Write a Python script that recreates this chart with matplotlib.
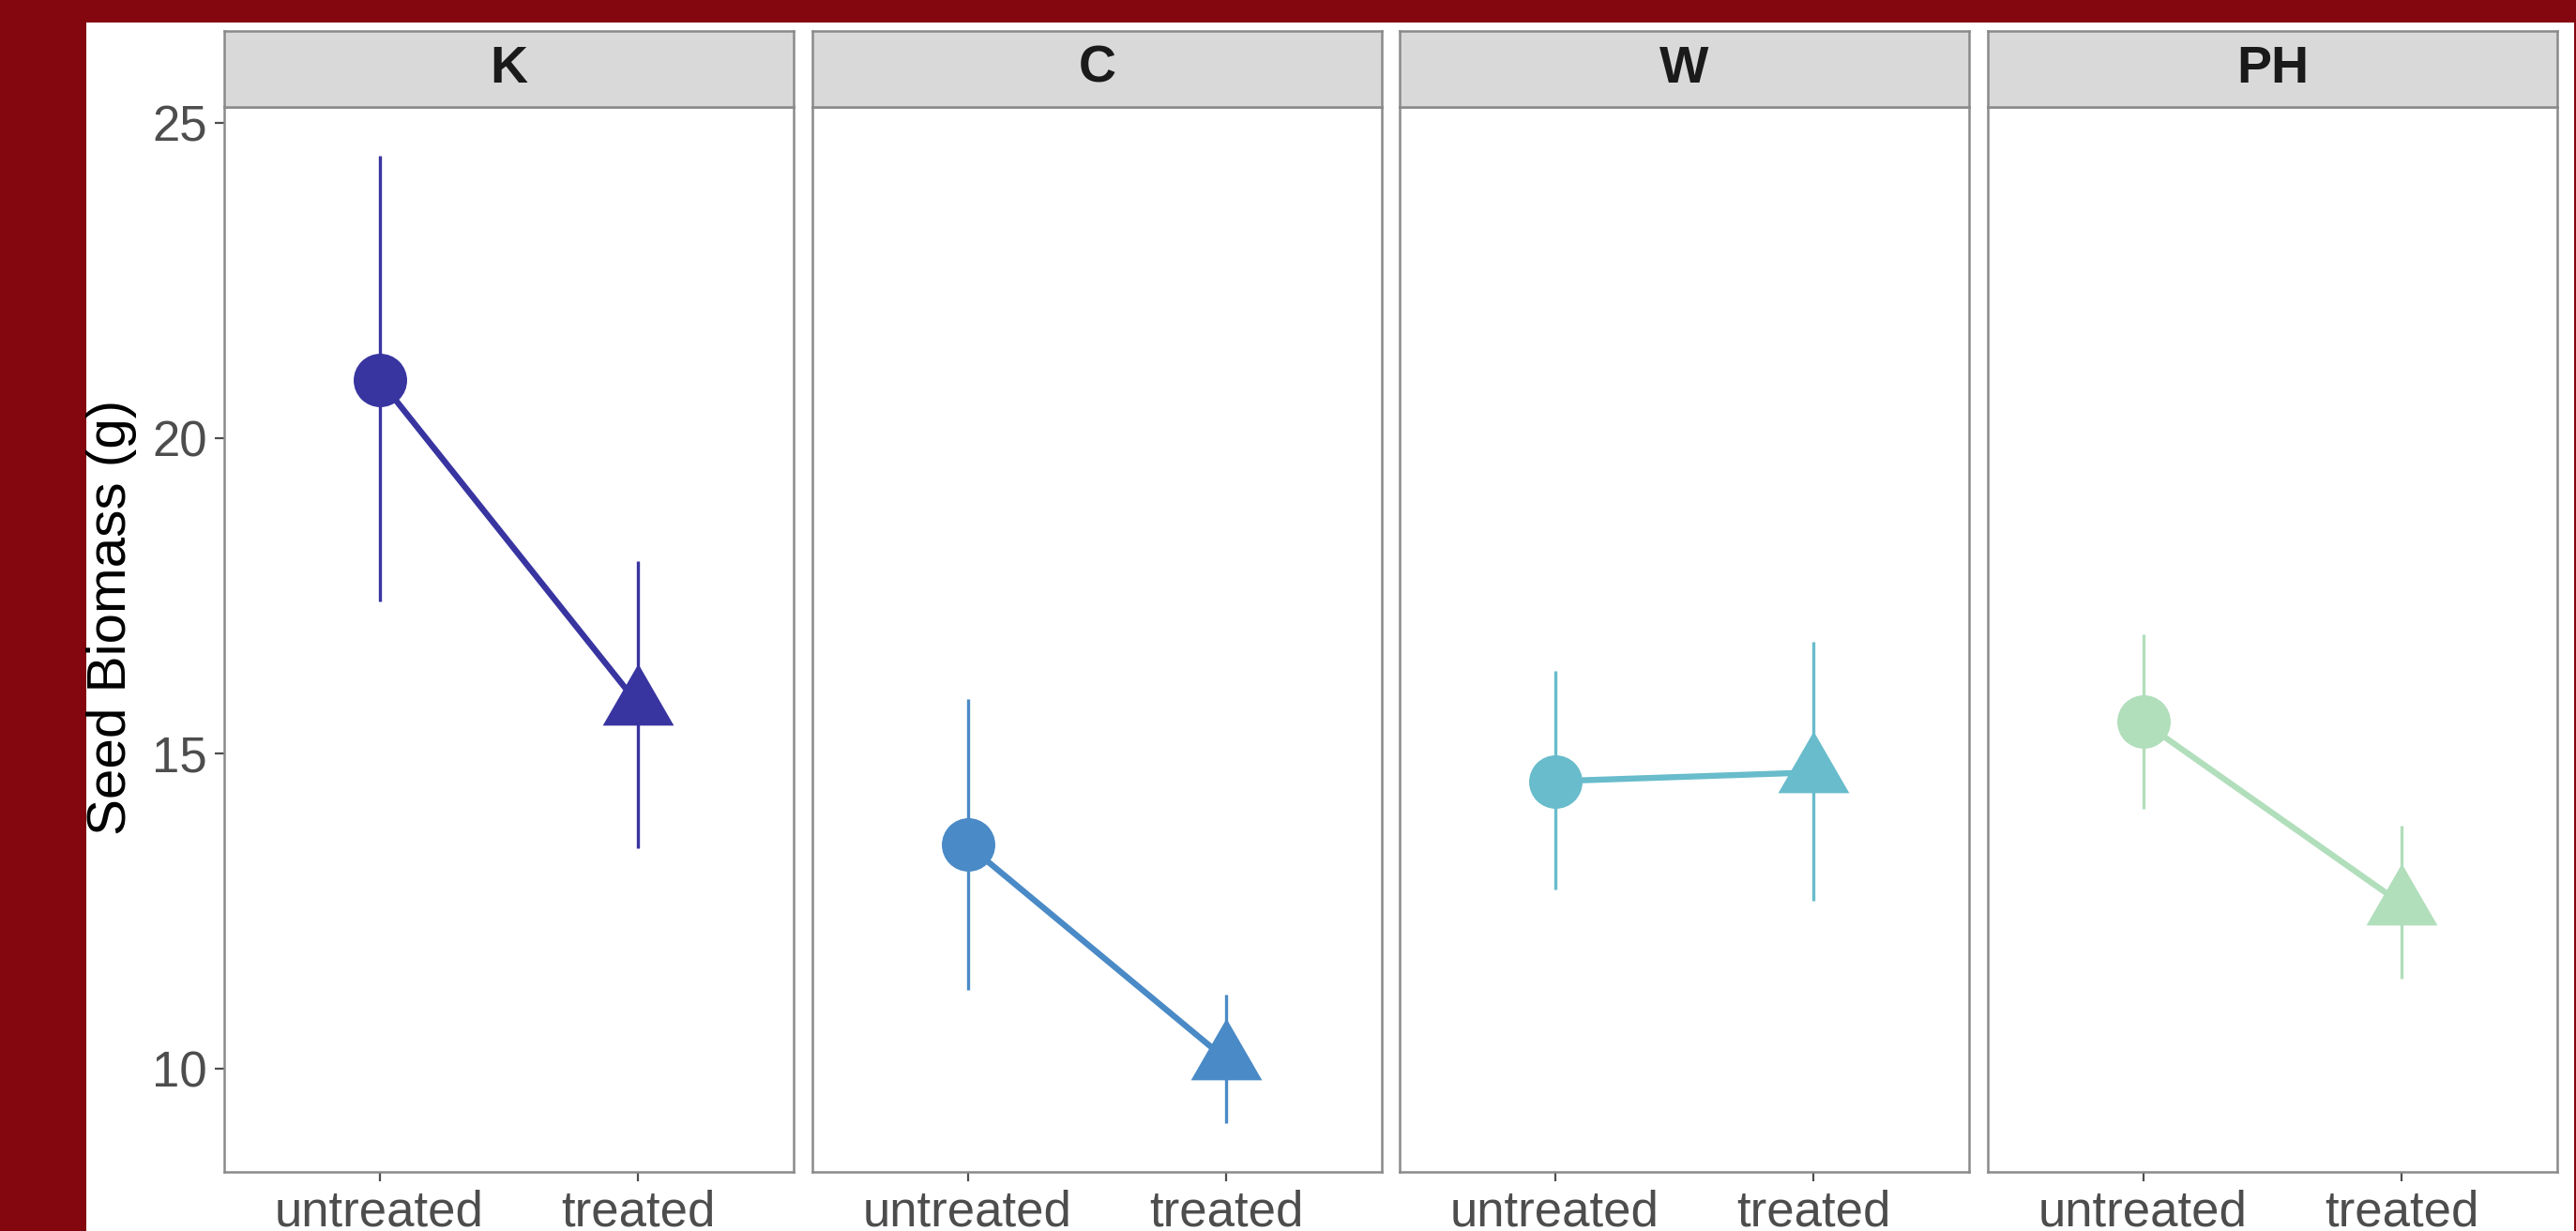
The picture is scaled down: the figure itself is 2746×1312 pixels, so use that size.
import matplotlib.pyplot as plt
from matplotlib.patches import Rectangle

plt.rcParams['font.family'] = ['Liberation Sans', 'DejaVu Sans']

# data
sites = ["K", "C", "W", "PH"]
treatments = ["untreated", "treated"]
mean_untreated = [20.93, 13.55, 14.56, 15.50]
mean_treated = [15.78, 10.14, 14.70, 12.61]
low_untreated = [17.41, 11.25, 12.84, 14.12]
high_untreated = [24.48, 15.87, 16.31, 16.89]
low_treated = [13.50, 9.14, 12.66, 11.42]
high_treated = [18.06, 11.17, 16.78, 13.85]
colors = ["#3834A0", "#4A8AC6", "#68BCCB", "#B1DEBB"]
yticks = [10, 15, 20, 25]

W, H = 2746, 1312
fig = plt.figure(figsize=(W / 100, H / 100), dpi=100)
fig.patch.set_facecolor("#840710")
fig.patches.append(Rectangle((92 / W, 0), (2744 - 92) / W, (H - 24) / H,
                             transform=fig.transFigure, facecolor="white",
                             edgecolor="none", zorder=-5))

tri = [(0, 1), (-0.866, -0.5), (0.866, -0.5)]
lefts = [239, 866, 1492, 2119]
pw = 607
ax_bot = (H - 1249) / H
ax_h = (1249 - 114) / H
strip_h = (114 - 33) / H
border = "#8A8A8A"

for i, site in enumerate(sites):
    ax = fig.add_axes([lefts[i] / W, ax_bot, pw / W, ax_h])
    x = [0, 1]
    means = [mean_untreated[i], mean_treated[i]]
    lows = [low_untreated[i], low_treated[i]]
    highs = [high_untreated[i], high_treated[i]]
    c = colors[i]
    ax.vlines(x, lows, highs, color=c, lw=2.4, zorder=2)
    ax.plot(x, means, color=c, lw=4.6, zorder=3, solid_capstyle='butt')
    ax.plot(x[0], means[0], marker='o', ms=41, color=c, mec='none', zorder=4)
    ax.plot(x[1], means[1], marker=tri, ms=63, color=c, mec='none', zorder=4)

    ax.set_xlim(-0.6, 1.6)
    ax.set_ylim(8.36, 25.26)
    ax.set_xticks(x)
    ax.set_xticklabels(treatments)
    ax.set_yticks(yticks)
    ax.tick_params(length=7, width=1.6, color="#4D4D4D", labelsize=38,
                   labelcolor="#4D4D4D", pad=6)
    if i > 0:
        ax.tick_params(axis='y', labelleft=False, length=0)
    for sp in ax.spines.values():
        sp.set_color(border)
        sp.set_linewidth(1.8)

    sax = fig.add_axes([lefts[i] / W, ax_bot + ax_h, pw / W, strip_h])
    sax.set_facecolor("#D9D9D9")
    sax.set_xticks([])
    sax.set_yticks([])
    for sp in sax.spines.values():
        sp.set_color(border)
        sp.set_linewidth(1.8)
    sax.text(0.5, 0.5, site, ha='center', va='center', fontsize=40,
             fontweight='bold', color="#1A1A1A", transform=sax.transAxes)

fig.text(119 / W, 1 - 658 / H, "Seed Biomass (g)", rotation=90,
         ha='center', va='center', fontsize=42, color="black")

fig.savefig("out.png", dpi=100, facecolor=fig.get_facecolor())
